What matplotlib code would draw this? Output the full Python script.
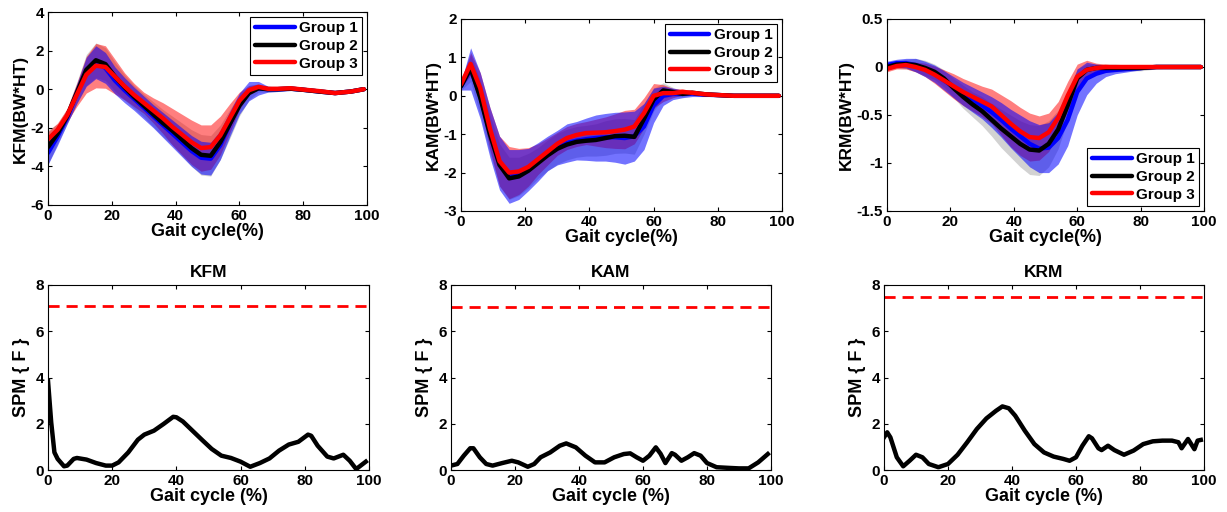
import numpy as np
import matplotlib
matplotlib.use('Agg')
import matplotlib.pyplot as plt
from matplotlib.ticker import FormatStrFormatter

plt.rcParams['font.family'] = ['Liberation Sans', 'DejaVu Sans']
plt.rcParams['font.weight'] = 'bold'
plt.rcParams['axes.labelweight'] = 'bold'
plt.rcParams['axes.titleweight'] = 'bold'

# gait cycle samples (%) for the moment curves
gait = [0, 3, 6, 9, 12, 15, 18, 21, 24, 27, 30, 33, 36, 39, 42, 45, 48, 51, 54, 57,
        60, 63, 66, 69, 72, 76, 80, 85, 90, 95, 99]
groups = ['Group 1', 'Group 2', 'Group 3']

# KFM (BW*HT): mean and sd per group
kfm_g1 = [-3.3, -2.45, -1.45, -0.25, 0.9, 1.4, 1.1, 0.45, -0.05, -0.5, -0.95, -1.4, -1.85, -2.3, -2.75,
          -3.2, -3.55, -3.6, -2.9, -1.8, -0.75, -0.1, 0.05, 0.0, 0.0, 0.03, -0.03, -0.12, -0.2, -0.12, 0.0]
kfm_g2 = [-3.0, -2.3, -1.4, -0.2, 1.0, 1.5, 1.3, 0.65, 0.1, -0.4, -0.85, -1.3, -1.75, -2.15, -2.6,
          -3.05, -3.4, -3.45, -2.75, -1.8, -0.85, -0.2, 0.05, 0.0, 0.0, 0.03, -0.03, -0.12, -0.2, -0.12, 0.0]
kfm_g3 = [-2.6, -2.1, -1.35, -0.3, 0.75, 1.22, 1.15, 0.65, 0.15, -0.3, -0.7, -1.1, -1.5, -1.95, -2.35,
          -2.75, -3.05, -3.0, -2.4, -1.5, -0.6, -0.05, 0.12, 0.02, 0.02, 0.05, -0.02, -0.1, -0.2, -0.12, 0.0]
kfm_sd1 = [0.6, 0.45, 0.35, 0.5, 0.75, 0.85, 0.8, 0.7, 0.65, 0.6, 0.6, 0.6, 0.65, 0.7, 0.75, 0.8, 0.85,
           0.85, 0.75, 0.65, 0.55, 0.5, 0.35, 0.15, 0.12, 0.1, 0.06, 0.05, 0.04, 0.03, 0.02]
kfm_sd2 = [0.9, 0.5, 0.4, 0.55, 0.8, 0.9, 0.85, 0.75, 0.65, 0.6, 0.6, 0.65, 0.7, 0.75, 0.85, 0.95, 1.05,
           1.05, 0.9, 0.75, 0.55, 0.35, 0.2, 0.15, 0.12, 0.1, 0.08, 0.06, 0.05, 0.03, 0.02]
kfm_sd3 = [0.4, 0.35, 0.35, 0.6, 0.95, 1.15, 1.1, 0.9, 0.7, 0.6, 0.55, 0.65, 0.8, 0.95, 1.05, 1.15, 1.2,
           1.15, 1.0, 0.75, 0.45, 0.25, 0.15, 0.08, 0.06, 0.05, 0.04, 0.03, 0.03, 0.02, 0.02]

# KAM (BW*HT)
kam_g1 = [0.25, 0.7, 0.0, -0.95, -1.75, -2.1, -2.05, -1.92, -1.72, -1.5, -1.35, -1.23, -1.17, -1.13, -1.1,
          -1.08, -1.08, -1.1, -1.05, -0.8, -0.25, 0.0, 0.05, 0.05, 0.06, 0.03, 0.02, 0.0, 0.0, 0.0, 0.0]
kam_g2 = [0.25, 0.72, -0.05, -1.0, -1.8, -2.15, -2.1, -1.95, -1.75, -1.55, -1.38, -1.27, -1.2, -1.17, -1.15,
          -1.1, -1.05, -1.04, -1.07, -0.6, -0.1, 0.14, 0.1, 0.05, 0.08, 0.04, 0.02, 0.0, 0.0, 0.0, 0.0]
kam_g3 = [0.3, 0.83, 0.2, -0.85, -1.7, -2.0, -1.97, -1.85, -1.65, -1.45, -1.25, -1.1, -1.02, -0.97, -0.96,
          -0.95, -0.92, -0.88, -0.8, -0.45, 0.0, 0.07, 0.07, 0.1, 0.08, 0.04, 0.02, 0.0, 0.0, 0.0, 0.0]
kam_sd1 = [0.1, 0.55, 0.6, 0.65, 0.7, 0.7, 0.65, 0.55, 0.5, 0.45, 0.45, 0.5, 0.5, 0.55, 0.6, 0.62, 0.65,
           0.68, 0.65, 0.6, 0.45, 0.25, 0.15, 0.1, 0.08, 0.05, 0.04, 0.03, 0.03, 0.02, 0.02]
kam_sd2 = [0.1, 0.35, 0.45, 0.5, 0.55, 0.55, 0.5, 0.45, 0.4, 0.4, 0.4, 0.4, 0.4, 0.4, 0.42, 0.45, 0.45,
           0.45, 0.45, 0.4, 0.3, 0.2, 0.12, 0.08, 0.06, 0.05, 0.04, 0.03, 0.02, 0.02, 0.02]
kam_sd3 = [0.1, 0.3, 0.4, 0.55, 0.65, 0.68, 0.6, 0.5, 0.4, 0.35, 0.3, 0.3, 0.3, 0.3, 0.35, 0.4, 0.45,
           0.5, 0.45, 0.4, 0.32, 0.22, 0.12, 0.08, 0.05, 0.04, 0.03, 0.02, 0.02, 0.02, 0.02]

# KRM (BW*HT)
krm_g1 = [0.02, 0.04, 0.04, 0.02, -0.02, -0.07, -0.14, -0.21, -0.28, -0.34, -0.4, -0.47, -0.55, -0.64, -0.72,
          -0.8, -0.85, -0.84, -0.74, -0.55, -0.26, -0.12, -0.07, -0.04, -0.03, -0.02, -0.01, 0.0, 0.0, 0.0, 0.0]
krm_g2 = [0.0, 0.025, 0.03, 0.02, -0.01, -0.05, -0.12, -0.22, -0.31, -0.39, -0.46, -0.55, -0.64, -0.72, -0.8,
          -0.86, -0.87, -0.8, -0.65, -0.4, -0.12, -0.03, -0.01, -0.01, -0.01, -0.01, -0.01, 0.0, 0.0, 0.0, 0.0]
krm_g3 = [-0.02, 0.01, 0.02, 0.0, -0.03, -0.08, -0.14, -0.2, -0.26, -0.31, -0.36, -0.41, -0.5, -0.59, -0.67,
          -0.73, -0.74, -0.68, -0.53, -0.3, -0.1, -0.03, -0.01, 0.0, 0.0, 0.0, 0.0, 0.0, 0.0, 0.0, 0.0]
krm_sd1 = [0.04, 0.04, 0.05, 0.07, 0.08, 0.09, 0.1, 0.11, 0.12, 0.13, 0.14, 0.16, 0.18, 0.2, 0.22, 0.24,
           0.25, 0.26, 0.27, 0.27, 0.24, 0.17, 0.1, 0.06, 0.04, 0.03, 0.02, 0.01, 0.01, 0.01, 0.01]
krm_sd2 = [0.03, 0.04, 0.05, 0.07, 0.08, 0.08, 0.09, 0.1, 0.12, 0.13, 0.15, 0.17, 0.2, 0.22, 0.24, 0.26,
           0.26, 0.24, 0.2, 0.15, 0.1, 0.06, 0.04, 0.04, 0.04, 0.03, 0.03, 0.02, 0.01, 0.01, 0.01]
krm_sd3 = [0.03, 0.03, 0.04, 0.05, 0.07, 0.09, 0.11, 0.13, 0.14, 0.15, 0.16, 0.18, 0.21, 0.24, 0.25, 0.25,
           0.23, 0.2, 0.17, 0.15, 0.13, 0.1, 0.05, 0.03, 0.02, 0.02, 0.01, 0.01, 0.01, 0.01, 0.01]

# SPM{F} curves
kfm_spm_x = [0, 1, 2, 3, 5, 6, 8, 9, 12, 15, 18, 20, 22, 25, 28, 30, 33, 36, 39, 40, 42, 45, 48, 51, 54,
             57, 60, 63, 66, 69, 72, 75, 78, 81, 82, 84, 87, 89, 92, 94, 96, 99]
kfm_spm = [3.86, 2.06, 0.76, 0.48, 0.16, 0.19, 0.48, 0.52, 0.45, 0.3, 0.19, 0.19, 0.33, 0.76, 1.31, 1.53,
           1.7, 1.99, 2.3, 2.28, 2.1, 1.7, 1.3, 0.91, 0.62, 0.52, 0.36, 0.14, 0.3, 0.5, 0.84, 1.1, 1.22,
           1.53, 1.48, 1.05, 0.58, 0.5, 0.66, 0.4, 0.04, 0.36]
kam_spm_x = [0, 2, 4, 6, 7, 9, 11, 13, 16, 19, 21, 24, 26, 28, 31, 34, 36, 39, 42, 45, 48, 51, 54, 56, 58,
             60, 62, 64, 65.5, 67, 69, 70, 72, 74, 76, 78, 80, 83, 87, 90, 93, 96, 99]
kam_spm = [0.19, 0.26, 0.62, 0.94, 0.94, 0.55, 0.26, 0.19, 0.3, 0.4, 0.33, 0.14, 0.26, 0.55, 0.76, 1.05,
           1.15, 0.98, 0.62, 0.33, 0.33, 0.55, 0.69, 0.72, 0.55, 0.4, 0.62, 0.98, 0.7, 0.3, 0.73, 0.66,
           0.4, 0.55, 0.73, 0.62, 0.3, 0.12, 0.09, 0.07, 0.07, 0.33, 0.69]
krm_spm_x = [0, 1, 2, 4, 6, 8, 10, 12, 14, 17, 20, 23, 26, 29, 32, 35, 37, 39, 41, 44, 47, 50, 53, 56, 58,
             60, 62, 64, 65, 67, 68, 70, 72, 75, 78, 81, 84, 87, 90, 92, 93, 95, 97, 98, 99]
krm_spm = [1.41, 1.63, 1.41, 0.55, 0.16, 0.4, 0.66, 0.55, 0.26, 0.12, 0.26, 0.66, 1.2, 1.77, 2.23, 2.56,
           2.75, 2.67, 2.35, 1.7, 1.12, 0.76, 0.58, 0.48, 0.4, 0.55, 1.05, 1.46, 1.37, 0.94, 0.86, 1.05,
           0.86, 0.66, 0.84, 1.12, 1.24, 1.27, 1.27, 1.2, 0.94, 1.34, 0.9, 1.27, 1.3]
thresholds = [7.1, 7.06, 7.46]

W, H = 1227, 512
fig = plt.figure(figsize=(W / 100, H / 100), dpi=100)


def px_axes(l, t, r, b):
    return fig.add_axes([l / W, 1 - b / H, (r - l) / W, (b - t) / H])


def style(ax):
    ax.tick_params(direction='in', top=True, right=True, labelsize=11, length=3, width=0.8, pad=3)
    for s in ax.spines.values():
        s.set_linewidth(0.8)
    ax.set_xlim(0, 100)
    ax.set_xticks([0, 20, 40, 60, 80, 100])


top_boxes = [(48, 12, 367, 205), (461, 19, 782, 211), (887, 19, 1204, 211)]
bot_boxes = [(48, 285, 369, 470), (451, 285, 771, 470), (884, 285, 1204, 470)]

moments = [
    ('KFM', [kfm_g1, kfm_g2, kfm_g3], [kfm_sd1, kfm_sd2, kfm_sd3], (-6, 4), np.arange(-6, 5, 2), 'upper right'),
    ('KAM', [kam_g1, kam_g2, kam_g3], [kam_sd1, kam_sd2, kam_sd3], (-3, 2), np.arange(-3, 3, 1), 'upper right'),
    ('KRM', [krm_g1, krm_g2, krm_g3], [krm_sd1, krm_sd2, krm_sd3], (-1.5, 0.5), np.arange(-1.5, 0.6, 0.5), 'lower right'),
]
line_cols = ['blue', 'black', 'red']
band_cols = [('blue', 0.55), ('#808080', 0.35), ('red', 0.5)]
band_order = [1, 2, 0]

x = np.array(gait)
for box, (name, means, sds, ylim, yt, loc) in zip(top_boxes, moments):
    ax = px_axes(*box)
    for i in band_order:
        m = np.array(means[i])
        s = np.array(sds[i])
        c, a = band_cols[i]
        ax.fill_between(x, m - s, m + s, color=c, alpha=a, lw=0)
    for i in range(3):
        ax.plot(x, means[i], color=line_cols[i], lw=3.2, label=groups[i], solid_capstyle='round')
    style(ax)
    ax.set_ylim(*ylim)
    ax.set_yticks(yt)
    ax.yaxis.set_major_formatter(FormatStrFormatter('%g'))
    ax.set_xlabel('Gait cycle(%)', fontsize=13, labelpad=0)
    ax.set_ylabel(name + '(BW*HT)', fontsize=12.5, labelpad=2)
    leg = ax.legend(loc=loc, fontsize=11, fancybox=False, edgecolor='black', framealpha=1,
                    handlelength=2.6, borderpad=0.3, labelspacing=0.25, borderaxespad=0.3, handletextpad=0.3)
    leg.get_frame().set_linewidth(0.8)

spms = [('KFM', kfm_spm_x, kfm_spm), ('KAM', kam_spm_x, kam_spm), ('KRM', krm_spm_x, krm_spm)]
for box, (name, sx, sy), thr in zip(bot_boxes, spms, thresholds):
    ax = px_axes(*box)
    ax.plot(sx, sy, color='black', lw=3.2)
    ax.axhline(thr, color='red', lw=2, ls=(0, (4, 2.5)))
    style(ax)
    ax.set_ylim(0, 8)
    ax.set_yticks([0, 2, 4, 6, 8])
    ax.set_title(name, fontsize=12.5, pad=6)
    ax.set_xlabel('Gait cycle (%)', fontsize=13, labelpad=0)
    ax.set_ylabel('SPM { F }', fontsize=13, labelpad=4)

fig.savefig('out.png', dpi=100)
